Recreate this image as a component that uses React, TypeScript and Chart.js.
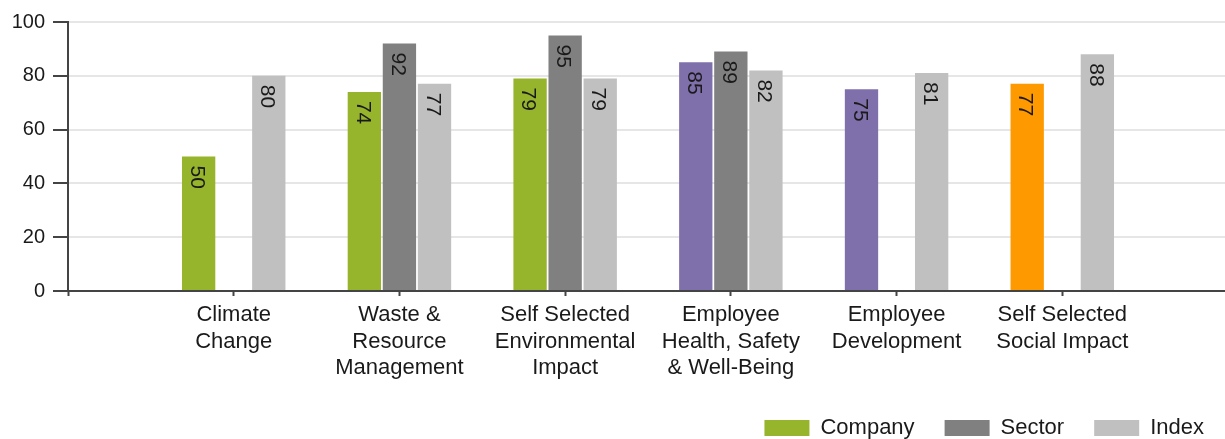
import React, { useEffect, useRef } from 'react';
import { Chart, registerables } from 'chart.js';

Chart.register(...registerables);

const FONT = '"Liberation Sans", Arial, Helvetica, sans-serif';

// Category labels (empty ones at both ends pad the axis like the original)
const categories: (string | string[])[] = [
  '',
  ['Climate', 'Change'],
  ['Waste &', 'Resource', 'Management'],
  ['Self Selected', 'Environmental', 'Impact'],
  ['Employee', 'Health, Safety', '& Well-Being'],
  ['Employee', 'Development'],
  ['Self Selected', 'Social Impact'],
  '',
];

const seriesNames = ['Company', 'Sector', 'Index'];
const companyValues: (number | null)[] = [null, 50, 74, 79, 85, 75, 77, null];
const sectorValues: (number | null)[] = [null, null, 92, 95, 89, null, null, null];
const indexValues: (number | null)[] = [null, 80, 77, 79, 82, 81, 88, null];

const GREEN = '#96b52d';
const PURPLE = '#7f6fab';
const ORANGE = '#ff9900';
const companyColors = [GREEN, GREEN, GREEN, GREEN, PURPLE, PURPLE, ORANGE, GREEN];
const SECTOR_COLOR = '#808080';
const INDEX_COLOR = '#c0c0c0';

const yMin = 0;
const yMax = 100;
const yStep = 20;

const barLabelPlugin = {
  id: 'barLabels',
  afterDatasetsDraw(chart: any) {
    const ctx = chart.ctx;
    chart.data.datasets.forEach((ds: any, di: number) => {
      const meta = chart.getDatasetMeta(di);
      if (meta.hidden) return;
      meta.data.forEach((el: any, i: number) => {
        const v = ds.data[i];
        if (v === null || v === undefined) return;
        ctx.save();
        ctx.translate(el.x - 2, el.y + 9);
        ctx.rotate(Math.PI / 2);
        ctx.font = `21px ${FONT}`;
        ctx.fillStyle = '#1a1a1a';
        ctx.textAlign = 'left';
        ctx.textBaseline = 'middle';
        ctx.fillText(String(Math.round(v)), 0, 0);
        ctx.restore();
      });
    });
  },
};

export default function App() {
  const canvasRef = useRef<HTMLCanvasElement | null>(null);

  useEffect(() => {
    if (!canvasRef.current) return;
    Chart.defaults.font.family = FONT;
    const chart = new Chart(canvasRef.current, {
      type: 'bar',
      data: {
        labels: categories as any,
        datasets: [
          {
            label: seriesNames[0],
            data: companyValues,
            backgroundColor: (c: any) => (c.type === 'data' ? companyColors[c.dataIndex] : GREEN),
            borderWidth: 0,
          },
          {
            label: seriesNames[1],
            data: sectorValues,
            backgroundColor: SECTOR_COLOR,
            borderWidth: 0,
          },
          {
            label: seriesNames[2],
            data: indexValues,
            backgroundColor: INDEX_COLOR,
            borderWidth: 0,
          },
        ],
      },
      options: {
        animation: false,
        responsive: true,
        maintainAspectRatio: false,
        devicePixelRatio: 1,
        categoryPercentage: 0.635,
        barPercentage: 0.95,
        layout: { padding: { top: 22, left: 0, right: 0, bottom: 0 } },
        scales: {
          x: {
            type: 'category',
            offset: false,
            grid: {
              offset: false,
              drawOnChartArea: false,
              drawTicks: true,
              tickLength: 5,
              tickColor: '#444444',
              tickWidth: 2,
            },
            border: { display: true, color: '#444444', width: 2 },
            ticks: {
              color: '#1a1a1a',
              font: { size: 22, lineHeight: 1.2 },
              maxRotation: 0,
              minRotation: 0,
              autoSkip: false,
              padding: 6,
            },
            afterFit(scale: any) {
              scale.height = 96;
            },
          },
          y: {
            min: yMin,
            max: yMax,
            ticks: {
              stepSize: yStep,
              color: '#1a1a1a',
              font: { size: 20 },
              padding: 8,
            },
            grid: {
              color: '#e6e6e6',
              lineWidth: 2,
              tickLength: 15,
              tickColor: '#444444',
              tickWidth: 2,
            },
            border: { display: true, color: '#444444', width: 2 },
            afterFit(scale: any) {
              scale.width = 68;
            },
          },
        },
        plugins: {
          legend: {
            position: 'bottom',
            align: 'end',
            labels: {
              boxWidth: 45,
              boxHeight: 16,
              padding: 30,
              color: '#1a1a1a',
              font: { size: 22 },
            },
          },
          tooltip: { enabled: false },
          title: { display: false },
        },
      } as any,
      plugins: [barLabelPlugin],
    });
    return () => chart.destroy();
  }, []);

  return (
    <div
      style={{
        position: 'fixed',
        left: 0,
        top: 0,
        width: 1225,
        height: 439,
        overflow: 'hidden',
        background: '#ffffff',
      }}
    >
      <div style={{ position: 'relative', width: 1234, height: 449 }}>
        <canvas ref={canvasRef} />
      </div>
    </div>
  );
}
